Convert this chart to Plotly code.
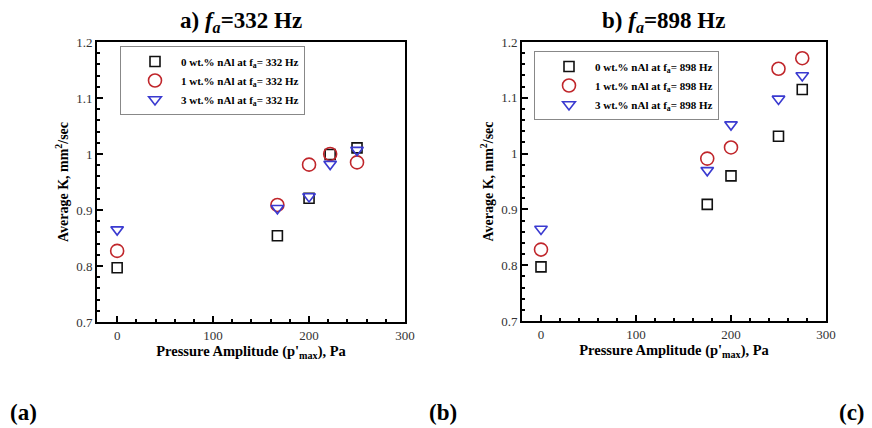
import plotly.graph_objects as go

# ---- data ----
x_a_0 = [0, 167, 200, 222, 250]
y_a_0 = [0.797, 0.854, 0.921, 0.999, 1.011]
x_a_1 = [0, 167, 200, 222, 250]
y_a_1 = [0.827, 0.909, 0.981, 1.000, 0.985]
x_a_3 = [0, 167, 200, 222, 250]
y_a_3 = [0.865, 0.903, 0.924, 0.982, 1.007]

x_b_0 = [0, 175, 200, 250, 275]
y_b_0 = [0.797, 0.909, 0.960, 1.031, 1.115]
x_b_1 = [0, 175, 200, 250, 275]
y_b_1 = [0.828, 0.991, 1.011, 1.152, 1.171]
x_b_3 = [0, 175, 200, 250, 275]
y_b_3 = [0.865, 0.970, 1.052, 1.098, 1.140]

names_a = ["<b>0 wt.% nAl at f<sub>a</sub>= 332 Hz</b>", "<b>1 wt.% nAl at f<sub>a</sub>= 332 Hz</b>", "<b>3 wt.% nAl at f<sub>a</sub>= 332 Hz</b>"]
names_b = ["<b>0 wt.% nAl at f<sub>a</sub>= 898 Hz</b>", "<b>1 wt.% nAl at f<sub>a</sub>= 898 Hz</b>", "<b>3 wt.% nAl at f<sub>a</sub>= 898 Hz</b>"]

x_ticks = [0, 100, 200, 300]
y_ticks = [0.7, 0.8, 0.9, 1.0, 1.1, 1.2]
y_ticktext = ["0.7", "0.8", "0.9", "1", "1.1", "1.2"]

FONT = "Liberation Serif"
# page body has an 8px margin; figure is sized so it ends at the window edge
OFF = 8
W, H = 872 - OFF, 428 - OFF

styles = [
    dict(symbol="square-open", size=10, color="#111111", line=dict(width=1.6, color="#111111")),
    dict(symbol="circle-open", size=13, color="#c0262b", line=dict(width=1.6, color="#c0262b")),
    dict(symbol="triangle-down-open", size=11, color="#3a3ad0", line=dict(width=1.6, color="#3a3ad0")),
]

fig = go.Figure()
for xs, ys, nm, st in zip([x_a_0, x_a_1, x_a_3], [y_a_0, y_a_1, y_a_3], names_a, styles):
    fig.add_trace(go.Scatter(x=xs, y=ys, mode="markers", name=nm, marker=st,
                             xaxis="x", yaxis="y", legend="legend"))
for xs, ys, nm, st in zip([x_b_0, x_b_1, x_b_3], [y_b_0, y_b_1, y_b_3], names_b, styles):
    fig.add_trace(go.Scatter(x=xs, y=ys, mode="markers", name=nm, marker=st,
                             xaxis="x2", yaxis="y2", legend="legend2"))

def px_x(p):
    return (p - OFF) / W

def px_y(p):
    return 1 - (p - OFF) / H

axis_common = dict(
    showline=True, linecolor="black", linewidth=2, mirror=True,
    ticks="inside", ticklen=6, tickwidth=1.5, tickcolor="black",
    showgrid=False, zeroline=False, automargin=False,
    tickfont=dict(family=FONT, size=13, color="#333"),
)

xt = dict(text="<b>Pressure Amplitude (p'<sub>max</sub>), Pa</b>", font=dict(family=FONT, size=14.5, color="black"), standoff=0)
yt = dict(text="<b>Average K, mm<sup>2</sup>/sec</b>", font=dict(family=FONT, size=14, color="black"), standoff=4)

leg_common = dict(xanchor="left", yanchor="top",
                  bgcolor="white", bordercolor="#888", borderwidth=1,
                  font=dict(family=FONT, size=11, color="black"),
                  tracegroupgap=0, itemwidth=42, indentation=8)

fig.update_layout(
    width=W, height=H,
    margin=dict(l=0, r=0, t=0, b=0),
    paper_bgcolor="white", plot_bgcolor="white",
    font=dict(family=FONT),
    xaxis=dict(domain=[px_x(97), px_x(405)], range=[-21, 300], anchor="y",
               tickvals=x_ticks, minor=dict(ticks="inside", dtick=20, ticklen=3, tickcolor="black"),
               title=xt, **axis_common),
    yaxis=dict(domain=[px_y(322), px_y(42)], range=[0.7, 1.2], anchor="x",
               tickvals=y_ticks, ticktext=y_ticktext,
               minor=dict(ticks="inside", dtick=0.02, ticklen=3, tickcolor="black"),
               title=yt, **axis_common),
    xaxis2=dict(domain=[px_x(522), px_x(826)], range=[-20, 300], anchor="y2",
                tickvals=x_ticks, minor=dict(ticks="inside", dtick=20, ticklen=3, tickcolor="black"),
                title=xt, **axis_common),
    yaxis2=dict(domain=[px_y(321), px_y(42)], range=[0.7, 1.2], anchor="x2",
                tickvals=y_ticks, ticktext=y_ticktext,
                minor=dict(ticks="inside", dtick=0.02, ticklen=3, tickcolor="black"),
                title=yt, **axis_common),
    legend=dict(x=px_x(120), y=px_y(46), **leg_common),
    legend2=dict(x=px_x(534), y=px_y(51), **leg_common),
    showlegend=True,
)

annos = [
    dict(text="<b>a) <i>f<sub>a</sub></i>=332 Hz</b>", x=px_x(241), y=px_y(22), size=23),
    dict(text="<b>b) <i>f<sub>a</sub></i>=898 Hz</b>", x=px_x(663), y=px_y(22), size=23),
    dict(text="<b>(a)</b>", x=px_x(23), y=px_y(412), size=23),
    dict(text="<b>(b)</b>", x=px_x(443), y=px_y(412), size=23),
    dict(text="<b>(c)</b>", x=px_x(852), y=px_y(412), size=23),
]
for a in annos:
    fig.add_annotation(xref="paper", yref="paper", showarrow=False,
                       xanchor="center", yanchor="middle",
                       text=a["text"], x=a["x"], y=a["y"],
                       font=dict(family=FONT, color="black", size=a["size"]))

fig.write_html("out.html")
